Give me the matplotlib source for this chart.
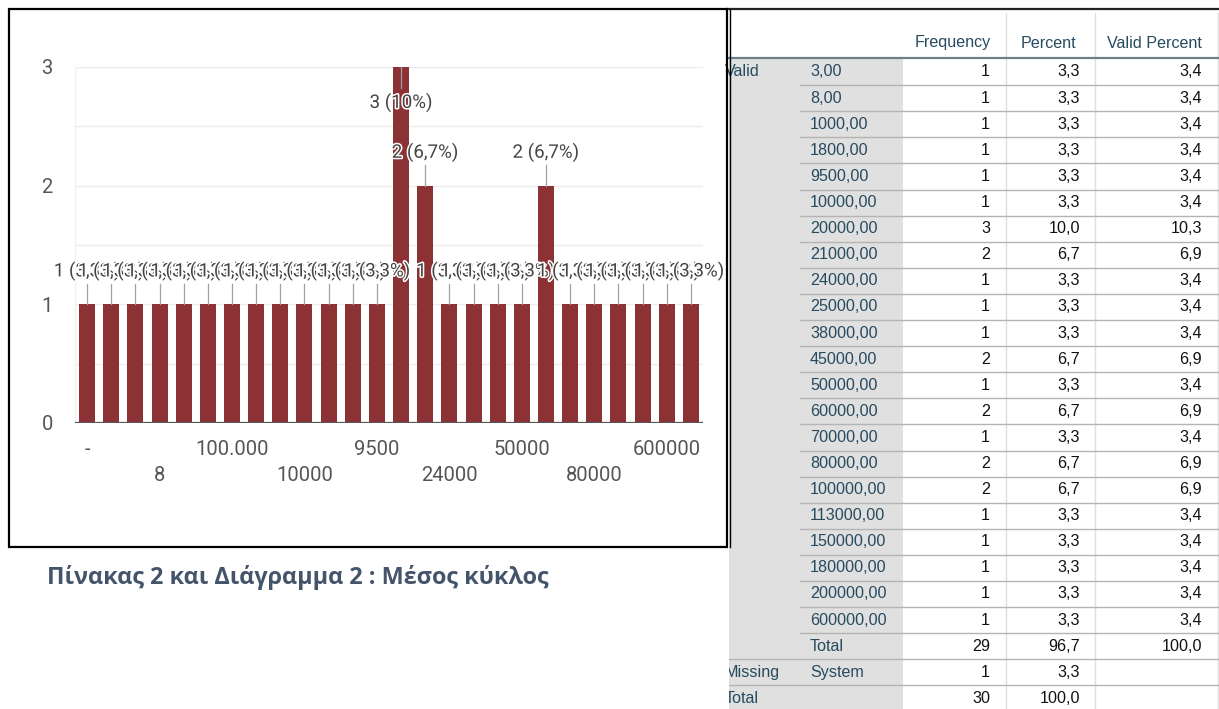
import matplotlib
matplotlib.use("Agg")
import matplotlib.pyplot as plt
import matplotlib.patheffects as pe
from matplotlib.patches import Rectangle

# bar chart (google forms style) - responses in order of the chart
categories = ["-", "3", "1000", "8", "1800", "20.000", "100.000", "25000", "38000",
              "10000", "45000", "60000", "9500", "20000", "21000", "24000", "45.000",
              "70000", "50000", "100000", "113000", "80000", "150000", "180000",
              "600000", "200000"]
counts = [1, 1, 1, 1, 1, 1, 1, 1, 1, 1, 1, 1, 1, 3, 2, 1, 1, 1, 1, 2, 1, 1, 1, 1, 1, 1]
n_responses = 30
shown_row1 = [0, 6, 12, 18, 24]
shown_row2 = [3, 9, 15, 21]

# spss frequency table
tab_values = ["3,00", "8,00", "1000,00", "1800,00", "9500,00", "10000,00", "20000,00",
              "21000,00", "24000,00", "25000,00", "38000,00", "45000,00", "50000,00",
              "60000,00", "70000,00", "80000,00", "100000,00", "113000,00", "150000,00",
              "180000,00", "200000,00", "600000,00", "Total"]
tab_freq = ["1", "1", "1", "1", "1", "1", "3", "2", "1", "1", "1", "2", "1", "2", "1",
            "2", "2", "1", "1", "1", "1", "1", "29"]
tab_pct = ["3,3", "3,3", "3,3", "3,3", "3,3", "3,3", "10,0", "6,7", "3,3", "3,3", "3,3",
           "6,7", "3,3", "6,7", "3,3", "6,7", "6,7", "3,3", "3,3", "3,3", "3,3", "3,3", "96,7"]
tab_valid = ["3,4", "3,4", "3,4", "3,4", "3,4", "3,4", "10,3", "6,9", "3,4", "3,4", "3,4",
             "6,9", "3,4", "6,9", "3,4", "6,9", "6,9", "3,4", "3,4", "3,4", "3,4", "3,4", "100,0"]
missing_row = ["Missing", "System", "1", "3,3", ""]
total_row = ["Total", "", "30", "100,0", ""]
headers = ["Frequency", "Percent", "Valid Percent"]

caption = "Πίνακας 2 και Διάγραμμα 2 : Μέσος κύκλος"

W, H = 1219, 709
fig = plt.figure(figsize=(W / 100, H / 100), dpi=100)

# overlay in pixel coordinates for frame, caption and table
bg = fig.add_axes([0, 0, 1, 1], zorder=0)
bg.set_xlim(0, W)
bg.set_ylim(H, 0)
bg.axis("off")

# ---- bar chart ----
ax = fig.add_axes([75 / W, (H - 423) / H, 628 / W, 356 / H], zorder=1)
ax.set_facecolor("none")
bar_color = "#8c3134"
tick_col = "#555555"
x = list(range(len(categories)))
ax.bar(x, counts, width=0.66, color=bar_color, zorder=2)
ax.set_xlim(-0.5, len(categories) - 0.5)
ax.set_ylim(0, 3)

ax.set_yticks([0, 1, 2, 3])
ax.set_yticks([0.5, 1.5, 2.5], minor=True)
ax.grid(axis="y", which="both", color="#ececec", lw=1, zorder=0)
ax.tick_params(axis="y", which="both", length=0, pad=16, labelsize=14.5, labelcolor=tick_col)
for t in ax.get_yticklabels():
    t.set_fontfamily("Roboto")

ax.set_xticks(shown_row1)
ax.set_xticklabels([categories[i] for i in shown_row1])
ax.set_xticks(shown_row2, minor=True)
ax.set_xticklabels([categories[i] for i in shown_row2], minor=True)
ax.tick_params(axis="x", which="major", length=0, pad=12, labelsize=14.5, labelcolor=tick_col)
ax.tick_params(axis="x", which="minor", length=0, pad=31, labelsize=14.5, labelcolor=tick_col)
for t in ax.get_xticklabels() + ax.get_xticklabels(minor=True):
    t.set_fontfamily("Roboto")

for s in ["top", "right", "bottom"]:
    ax.spines[s].set_visible(False)
ax.spines["left"].set_color("#f0f0f0")
ax.axhline(0, color="#555555", lw=1.6, zorder=3)

# data labels with leader lines, drawn left to right so later ones overlap
halo = [pe.withStroke(linewidth=2.2, foreground="white")]
for i, c in enumerate(counts):
    pct = "%.1f" % (c / n_responses * 100)
    pct = pct.rstrip("0").rstrip(".").replace(".", ",")
    lab = "%d (%s%%)" % (c, pct)
    if c + 0.3 > 3:
        ty, ly = c - 0.30, c - 0.18
    else:
        ty, ly = c + 0.28, c + 0.17
    ax.plot([i, i], [c, ly], color="#a0a0a0", lw=0.9, zorder=4)
    ax.text(i, ty, lab, ha="center", va="center", fontsize=13.5, family="Roboto",
            color="#444444", path_effects=halo, zorder=5 + i, clip_on=False)

# frame around the chart
bg.add_patch(Rectangle((9, 9), 718, 538, fill=False, ec="black", lw=1.6, zorder=10))
bg.plot([729.5, 729.5], [9, 547], color="black", lw=1.0, zorder=10)

bg.text(47, 578, caption, ha="left", va="center", fontsize=16.8, fontweight="bold",
        family=["Open Sans", "DejaVu Sans"], color="#44546a")

# ---- spss table ----
lab_col = "#264a60"
fs = 11.6
row_h = 26.1
top0 = 59
bg.add_patch(Rectangle((729, top0 - 1), 903 - 729, H - top0 + 1, color="#e0e0e0", lw=0, zorder=1))
bg.plot([727, W], [9, 9], color="#222222", lw=1.6, zorder=3)
for xs in [1006, 1095, 1218]:
    bg.plot([xs, xs], [13, H], color="#dedede", lw=1, zorder=2)
bg.plot([729, W], [top0 - 1, top0 - 1], color="#6e7f8c", lw=1.6, zorder=3)

hx = [953, 1048, 1154]
for hxx, h in zip(hx, headers):
    bg.text(hxx, 43, h, ha="center", va="center", fontsize=fs, family="Liberation Sans",
            color=lab_col, zorder=4)

rows = []
for k in range(len(tab_values)):
    rows.append(["Valid" if k == 0 else "", tab_values[k], tab_freq[k], tab_pct[k], tab_valid[k]])
rows.append(missing_row)
rows.append(total_row)

for r, row in enumerate(rows):
    yc = top0 + 13 + r * row_h
    yb = top0 + (r + 1) * row_h
    if r < len(rows) - 1:
        x0 = 800 if r < len(tab_values) - 1 else 729
        bg.plot([x0, W], [yb, yb], color="#b4b4b4", lw=1, zorder=3)
    bg.text(725, yc, row[0], ha="left", va="center", fontsize=fs,
            family="Liberation Sans", color=lab_col, zorder=4)
    bg.text(810, yc, row[1], ha="left", va="center", fontsize=fs,
            family="Liberation Sans", color=lab_col, zorder=4)
    for xr, v in zip([990, 1080, 1202], row[2:]):
        bg.text(xr, yc, v, ha="right", va="center", fontsize=fs,
                family="Liberation Sans", color="#111111", zorder=4)

# the screenshot is cropped just right of the chart frame
bg.add_patch(Rectangle((718, 548), 11, H - 548, color="white", lw=0, zorder=8))

fig.savefig("out.png", dpi=100)
